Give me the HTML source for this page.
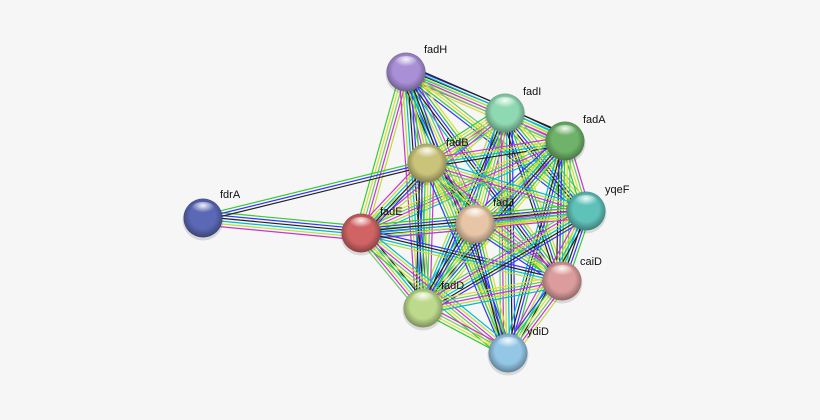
<!DOCTYPE html>
<html><head><meta charset="utf-8"><style>
html,body{margin:0;padding:0;background:#f6f6f6;}
svg{display:block;}
text{font-family:"Liberation Sans",sans-serif;font-size:11px;fill:#111;}
</style></head><body>
<svg id="s" width="820" height="420" viewBox="0 0 820 420" xmlns="http://www.w3.org/2000/svg">
<defs>
<radialGradient id="hl" cx="50%" cy="25%" r="50%"><stop offset="0" stop-color="#fff" stop-opacity="0.9"/><stop offset="1" stop-color="#fff" stop-opacity="0"/></radialGradient>
<radialGradient id="sh" cx="50%" cy="45%" r="55%"><stop offset="0.6" stop-color="#000" stop-opacity="0"/><stop offset="1" stop-color="#000" stop-opacity="0.35"/></radialGradient>
</defs>
<g id="edges"></g>
<g id="nodes"></g>
</svg>
<script>
var N={fadH:[406,72,'#a88fd6'],fadI:[505,113,'#8fd9b2'],fadA:[565,141,'#6fb36a'],fadB:[427,163,'#c9c47a'],fdrA:[203,218,'#5a68b5'],fadE:[361,233,'#d06464'],fadJ:[475,224,'#e6c6a6'],yqeF:[586,211,'#5fc2b9'],caiD:[562,281,'#dc9c9c'],fadD:[423,308,'#bcd98c'],ydiD:[508,353,'#94c6e6']};
var L={fadH:[18,-19],fadI:[18,-18],fadA:[18,-18],fadB:[19,-17],fdrA:[17,-20],fadE:[19,-18],fadJ:[18,-18],yqeF:[19,-18],caiD:[18,-16],fadD:[18,-19],ydiD:[19,-18]};
var cols=['#33cc33','#3333ff','#222','#00bbcc','#bbdd33','#cc33cc','#66cc66','#dddd33'];
var main=['fadH','fadI','fadA','fadB','fadE','fadJ','yqeF','caiD','fadD','ydiD'];
var ns='http://www.w3.org/2000/svg',E=document.getElementById('edges'),G=document.getElementById('nodes');
function edge(a,b,k,seed){var A=N[a],B=N[b],dx=B[0]-A[0],dy=B[1]-A[1],l=Math.hypot(dx,dy),px=-dy/l,py=dx/l;
for(var i=0;i<k;i++){var o=(i-(k-1)/2)*2.8,ln=document.createElementNS(ns,'line');
ln.setAttribute('x1',A[0]+px*o);ln.setAttribute('y1',A[1]+py*o);ln.setAttribute('x2',B[0]+px*o);ln.setAttribute('y2',B[1]+py*o);
ln.setAttribute('stroke',cols[(i+seed)%cols.length]);ln.setAttribute('stroke-width','1.2');E.appendChild(ln);}}
var s=0;for(var i=0;i<main.length;i++)for(var j=i+1;j<main.length;j++){s++;edge(main[i],main[j],4+(s%3),s);}
edge('fdrA','fadE',6,0);edge('fdrA','fadB',3,0);
for(var k in N){var n=N[k];
var c=document.createElementNS(ns,'circle');c.setAttribute('cx',n[0]);c.setAttribute('cy',n[1]+2);c.setAttribute('r',20.5);c.setAttribute('fill','rgba(0,0,0,0.12)');G.appendChild(c);
c=document.createElementNS(ns,'circle');c.setAttribute('cx',n[0]);c.setAttribute('cy',n[1]);c.setAttribute('r',19.5);c.setAttribute('fill',n[2]);G.appendChild(c);
c=document.createElementNS(ns,'circle');c.setAttribute('cx',n[0]);c.setAttribute('cy',n[1]);c.setAttribute('r',19.5);c.setAttribute('fill','url(#sh)');G.appendChild(c);
var e=document.createElementNS(ns,'ellipse');e.setAttribute('cx',n[0]);e.setAttribute('cy',n[1]-9);e.setAttribute('rx',12);e.setAttribute('ry',7);e.setAttribute('fill','url(#hl)');G.appendChild(e);
var t=document.createElementNS(ns,'text');t.setAttribute('x',n[0]+L[k][0]);t.setAttribute('y',n[1]+L[k][1]);t.textContent=k;G.appendChild(t);}
</script>
</body></html>
